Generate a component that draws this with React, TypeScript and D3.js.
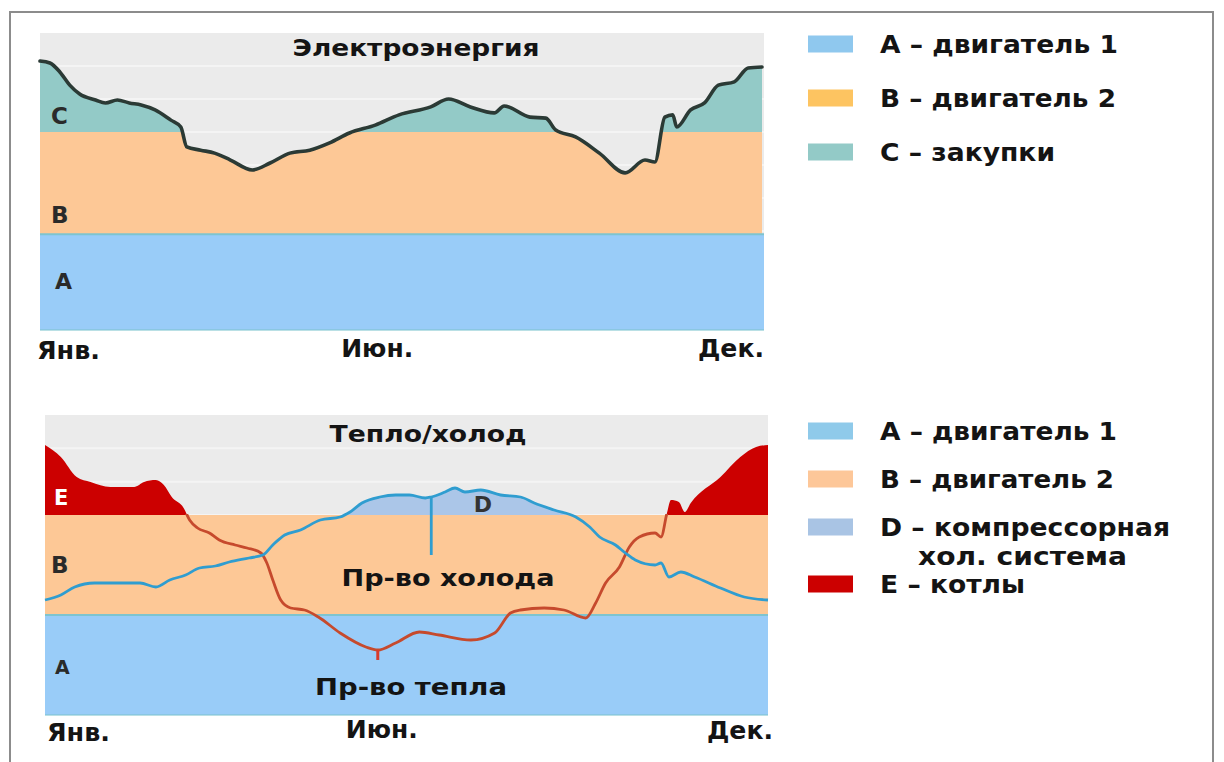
import React from 'react';
import * as d3 from 'd3';

// ---- data (values in abstract load units, x in day of year) ----

// Электроэнергия: total electricity demand
const elecDays = [0, 5, 10, 15, 20, 28, 33, 39, 45, 51, 58, 66, 71, 74, 81, 88, 96, 107, 116, 126, 136, 146, 156, 169, 181, 197, 206, 217, 229, 234, 247, 255, 260, 270, 282, 295, 305, 310, 315, 319, 321, 328, 335, 342, 350, 357, 364];
const elecTotal = [8.15, 8.09, 7.82, 7.42, 7.15, 6.97, 6.88, 6.97, 6.88, 6.82, 6.67, 6.36, 6.15, 5.55, 5.45, 5.36, 5.15, 4.85, 5.06, 5.36, 5.45, 5.67, 5.97, 6.21, 6.52, 6.76, 7.0, 6.76, 6.58, 6.79, 6.45, 6.42, 6.06, 5.85, 5.36, 4.76, 5.15, 5.09, 6.45, 6.52, 6.15, 6.67, 6.88, 7.42, 7.52, 7.94, 7.97];
const elecBands = [2.9, 6.0]; // top of A, top of B

// Тепло/холод: heat and cold demand
const heatDays = [0, 8, 16, 23, 33, 45, 50, 56, 60, 64, 70, 73, 77, 83, 88, 96, 102, 109, 112, 115, 119, 124, 131, 138, 149, 162, 168, 177, 189, 199, 215, 227, 235, 240, 252, 262, 273, 278, 283, 290, 295, 300, 308, 311, 314, 316, 320, 323, 326, 341, 351, 359, 365];
const heatDemand = [8.1, 7.74, 7.14, 6.99, 6.84, 6.84, 6.99, 7.05, 6.9, 6.54, 6.21, 5.85, 5.61, 5.46, 5.25, 5.1, 5.01, 4.86, 4.56, 4.05, 3.45, 3.21, 3.15, 2.94, 2.46, 2.04, 1.95, 2.16, 2.49, 2.4, 2.25, 2.46, 3.06, 3.15, 3.21, 3.15, 2.91, 3.36, 3.96, 4.44, 5.04, 5.34, 5.46, 5.34, 6.06, 6.45, 6.39, 6.09, 6.36, 7.14, 7.74, 8.04, 8.1];
const coldDays = [0, 8, 15, 25, 38, 48, 56, 63, 71, 78, 86, 93, 103, 110, 115, 121, 129, 139, 149, 154, 160, 169, 177, 184, 192, 195, 202, 207, 212, 220, 230, 240, 247, 257, 268, 275, 280, 288, 293, 298, 308, 311, 315, 321, 328, 341, 353, 365];
const coldDemand = [3.45, 3.6, 3.84, 3.96, 3.96, 3.96, 3.84, 4.05, 4.2, 4.41, 4.47, 4.59, 4.71, 4.8, 5.1, 5.4, 5.55, 5.85, 5.94, 6.09, 6.36, 6.54, 6.6, 6.6, 6.51, 6.54, 6.69, 6.81, 6.69, 6.75, 6.6, 6.54, 6.36, 6.15, 5.94, 5.64, 5.34, 5.1, 4.86, 4.65, 4.5, 4.56, 4.14, 4.29, 4.14, 3.81, 3.54, 3.45];
const thermBands = [3.0, 6.0];

const monthLabels = ['Янв.', 'Июн.', 'Дек.'];
const monthDays = [0, 170, 365];

const elecLegend = ['A – двигатель 1', 'B – двигатель 2', 'C – закупки'];
const thermLegend = ['A – двигатель 1', 'B – двигатель 2', 'D – компрессорная|хол. система', 'E – котлы'];

// ---- styles ----
const FONT = '"DejaVu Sans", Verdana, sans-serif';
const C = {
    bg: '#ebebeb',
    grid: '#f4f4f4',
    a: '#99ccf8',
    b: '#fdc896',
    c: '#93cac7',
    d: '#abc6e8',
    e: '#cc0000',
    sep: '#7ec4cf',
    elecLine: '#2b3a35',
    heatLine: '#c64a2d',
    coldLine: '#2f9dd0',
    text: '#141414'
};
const elecSwatch = ['#8fc8ee', '#fdc461', '#93cac7'];
const thermSwatch = ['#8fcaea', '#fdc799', '#a9c4e4', '#cc0000'];
// rendered text widths, to match the wide bold face of the original
const elecLegendW = [[238], [236], [175]];
const thermLegendW = [[237], [234], [290, 209], [145]];
const monthW = [63, 72, 66];

type P = [number, number];
type Lin = d3.ScaleLinear<number, number>;
const zip = (xs: number[], ys: number[]): P[] => xs.map((x, i) => [x, ys[i]]);

export default function App() {
    const W = 1224;
    const H = 762;

    const xTop = d3.scaleLinear().domain([0, 365]).range([40, 764]);
    const yTop = d3.scaleLinear().domain([0, 9]).range([330, 33]);
    const xBot = d3.scaleLinear().domain([0, 365]).range([45, 768]);
    const yBot = d3.scaleLinear().domain([0, 9]).range([715, 415]);

    const elec = zip(elecDays, elecTotal);
    const heat = zip(heatDays, heatDemand);
    const cold = zip(coldDays, coldDemand);

    const lineFor = (x: Lin, y: Lin) =>
        d3.line<P>().curve(d3.curveMonotoneX).x((d) => x(d[0])).y((d) => y(d[1]));
    const areaFor = (x: Lin, y: Lin) =>
        d3.area<P>().curve(d3.curveMonotoneX).x((d) => x(d[0])).y0(y(0)).y1((d) => y(d[1]));

    const topLine = lineFor(xTop, yTop);
    const topArea = areaFor(xTop, yTop);
    const botLine = lineFor(xBot, yBot);
    const botArea = areaFor(xBot, yBot);

    const band = (x: Lin, y: Lin, lo: number, hi: number, fill: string, clip?: string) => (
        <rect
            x={x(0)} width={x(365) - x(0)}
            y={y(hi)} height={y(lo) - y(hi)}
            fill={fill}
            clipPath={clip ? `url(#${clip})` : undefined}
        />
    );

    const grid = (x: Lin, y: Lin) =>
        y.ticks(9).filter((t) => t > 0 && t < 9).map((t) => (
            <line key={t} x1={x(0)} x2={x(365)} y1={y(t)} y2={y(t)} stroke={C.grid} strokeWidth={2} />
        ));

    const valueAt = (pts: P[], day: number) => pts.find((p) => p[0] === day)?.[1] ?? 0;

    const legend = (labels: string[], colors: string[], widths: number[][], y0: number, step: number) => {
        let y = y0;
        return labels.map((lab, i) => {
            const lines = lab.split('|');
            const cy = y;
            y += step + (lines.length - 1) * 9;
            return (
                <g key={i}>
                    <rect x={808} y={cy - 8.5} width={45} height={17} fill={colors[i]} />
                    {lines.map((ln, j) => (
                        <text
                            key={j}
                            x={j === 0 ? 880 : 918} y={cy + 9 + j * 29}
                            fontSize={24} fontWeight={700} fill={C.text}
                            textLength={widths[i][j]} lengthAdjust="spacingAndGlyphs"
                        >
                            {ln}
                        </text>
                    ))}
                </g>
            );
        });
    };

    const months = (x: Lin, baseline: number[], dx: number) =>
        monthLabels.map((m, i) => {
            const anchorX = x(monthDays[i]) + (i === 0 ? -3 + dx : i === 2 ? dx : 0);
            const start = i === 0 ? anchorX : i === 1 ? anchorX - monthW[i] / 2 : anchorX - monthW[i];
            return (
                <text
                    key={m}
                    x={start} y={baseline[i]}
                    fontSize={24} fontWeight={700} fill={C.text}
                    textLength={monthW[i]} lengthAdjust="spacingAndGlyphs"
                >
                    {m}
                </text>
            );
        });

    const centered = (txt: string, cx: number, y: number, size: number, width: number) => (
        <text
            x={cx - width / 2} y={y}
            fontSize={size} fontWeight={700} fill={C.text}
            textLength={width} lengthAdjust="spacingAndGlyphs"
        >
            {txt}
        </text>
    );

    const coldStemDay = 195;
    const heatStemDay = 168;

    return (
        <svg width={W} height={H} style={{ position: 'absolute', left: 0, top: 0, background: '#fff' }} fontFamily={FONT}>
            <defs>
                <clipPath id="clip-elec"><path d={topArea(elec) ?? ''} /></clipPath>
                <clipPath id="clip-heat"><path d={botArea(heat) ?? ''} /></clipPath>
                <clipPath id="clip-cold"><path d={botArea(cold) ?? ''} /></clipPath>
                <clipPath id="clip-below-b">
                    <rect x={0} y={yBot(thermBands[1]) - 1} width={W} height={H} />
                </clipPath>
            </defs>

            <rect width={W} height={H} fill="#fff" />
            <path d={`M10,${H} V12 H1213 V${H}`} fill="none" stroke="#8c8c8c" strokeWidth={2} />

            {/* ---------- Электроэнергия ---------- */}
            {band(xTop, yTop, 0, 9, C.bg)}
            {grid(xTop, yTop)}
            {band(xTop, yTop, elecBands[1], 9, C.c, 'clip-elec')}
            {band(xTop, yTop, elecBands[0], elecBands[1], C.b, 'clip-elec')}
            {band(xTop, yTop, 0, elecBands[0], C.a)}
            <line x1={xTop(0)} x2={xTop(365)} y1={yTop(elecBands[0])} y2={yTop(elecBands[0])} stroke={C.sep} strokeWidth={2} />
            <line x1={xTop(0)} x2={xTop(365)} y1={yTop(0)} y2={yTop(0)} stroke={C.sep} strokeWidth={1.5} opacity={0.7} />
            <path d={topLine(elec) ?? ''} fill="none" stroke={C.elecLine} strokeWidth={3.6} strokeLinejoin="round" strokeLinecap="round" />

            {centered('Электроэнергия', 416, 56, 23, 247)}
            <text x={51} y={yTop(6.5) + 8} fontSize={23} fontWeight={700} fill="#2a2a2a">C</text>
            <text x={51} y={yTop(3.5) + 8} fontSize={23} fontWeight={700} fill="#2a2a2a">B</text>
            <text x={55} y={yTop(1.5) + 8} fontSize={22} fontWeight={700} fill="#2a2a2a">A</text>
            {months(xTop, [359, 357, 357], 0)}
            {legend(elecLegend, elecSwatch, elecLegendW, 44, 54)}

            {/* ---------- Тепло/холод ---------- */}
            {band(xBot, yBot, 0, 9, C.bg)}
            {grid(xBot, yBot)}
            {band(xBot, yBot, thermBands[1], 9, C.e, 'clip-heat')}
            {band(xBot, yBot, thermBands[1], 9, C.d, 'clip-cold')}
            {band(xBot, yBot, thermBands[0], thermBands[1], C.b)}
            {band(xBot, yBot, 0, thermBands[0], C.a)}
            <line x1={xBot(0)} x2={xBot(365)} y1={yBot(thermBands[0])} y2={yBot(thermBands[0])} stroke={C.sep} strokeWidth={2} />
            <line x1={xBot(0)} x2={xBot(365)} y1={yBot(0)} y2={yBot(0)} stroke={C.sep} strokeWidth={1.5} opacity={0.7} />

            <g clipPath="url(#clip-below-b)">
                <path d={botLine(heat) ?? ''} fill="none" stroke={C.heatLine} strokeWidth={2.8} strokeLinejoin="round" />
            </g>
            <line
                x1={xBot(heatStemDay)} x2={xBot(heatStemDay)}
                y1={yBot(valueAt(heat, heatStemDay))} y2={yBot(1.65)}
                stroke="#d8392b" strokeWidth={3}
            />
            <path d={botLine(cold) ?? ''} fill="none" stroke={C.coldLine} strokeWidth={2.8} strokeLinejoin="round" />
            <line
                x1={xBot(coldStemDay)} x2={xBot(coldStemDay)}
                y1={yBot(valueAt(cold, coldStemDay))} y2={yBot(4.8)}
                stroke={C.coldLine} strokeWidth={2.8}
            />

            {centered('Тепло/холод', 428, 442, 23, 197)}
            <text x={54} y={yBot(6.5) + 7} fontSize={21} fontWeight={700} fill="#fff">E</text>
            <text x={51} y={yBot(4.5) + 8} fontSize={23} fontWeight={700} fill="#2a2a2a">B</text>
            <text x={55} y={yBot(1.45) + 7} fontSize={19} fontWeight={700} fill="#2a2a2a">A</text>
            <text x={xBot(221)} y={yBot(6.32) + 8} textAnchor="middle" fontSize={22} fontWeight={700} fill="#333">D</text>
            {centered('Пр-во холода', 448, 586, 23, 213)}
            {centered('Пр-во тепла', 411, 695, 23, 192)}
            {months(xBot, [741, 738, 739], 5)}
            {legend(thermLegend, thermSwatch, thermLegendW, 431, 48)}
        </svg>
    );
}
